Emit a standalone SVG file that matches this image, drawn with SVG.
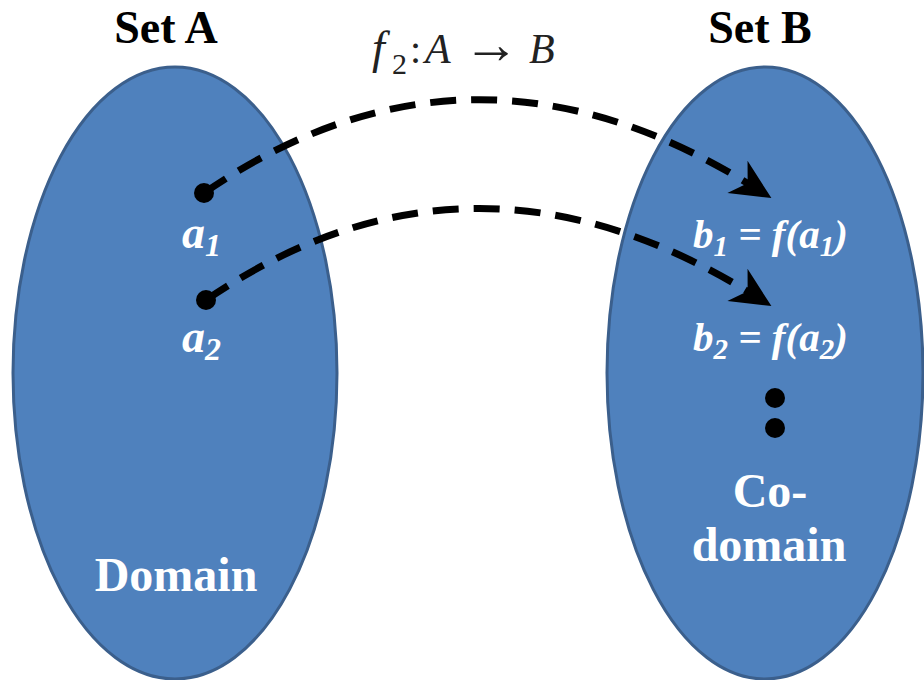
<svg xmlns="http://www.w3.org/2000/svg" width="924" height="680" viewBox="0 0 924 680">
<style>
.set{fill:#4f81bd;stroke:#3b5f8c;stroke-width:3}
.conn{fill:none;stroke:#000;stroke-width:7;stroke-dasharray:26 15}
</style>
<defs>
<path id="ah" d="M4,0 L-36,-19 L-24,0 L-36,19 Z" fill="#000"/>
</defs>
<g id="setA">
<ellipse class="set" cx="175" cy="373" rx="162" ry="306"/>
<text x="166" y="43" text-anchor="middle" font-family="Liberation Serif, DejaVu Serif, serif" font-weight="bold" font-size="46" fill="#000">Set A</text>
<text x="176" y="591" text-anchor="middle" font-family="Liberation Serif, DejaVu Serif, serif" font-weight="bold" font-size="48" fill="#fff">Domain</text>
</g>
<g id="setB">
<ellipse class="set" cx="765" cy="373" rx="158" ry="306"/>
<text x="760" y="43" text-anchor="middle" font-family="Liberation Serif, DejaVu Serif, serif" font-weight="bold" font-size="46" fill="#000">Set B</text>
<text x="770" y="507" text-anchor="middle" font-family="Liberation Serif, DejaVu Serif, serif" font-weight="bold" font-size="48" fill="#fff">Co-</text>
<text x="769" y="561" text-anchor="middle" font-family="Liberation Serif, DejaVu Serif, serif" font-weight="bold" font-size="48" fill="#fff">domain</text>
</g>
<g id="a1">
<circle cx="204" cy="193" r="10" fill="#000"/>
<text x="182" y="248" font-family="Liberation Serif, DejaVu Serif, serif" font-style="italic" font-weight="bold" fill="#fff" font-size="46">a<tspan font-size="32" dy="8">1</tspan></text>
</g>
<g id="a2">
<circle cx="206" cy="300" r="10" fill="#000"/>
<text x="182" y="352" font-family="Liberation Serif, DejaVu Serif, serif" font-style="italic" font-weight="bold" fill="#fff" font-size="46">a<tspan font-size="32" dy="8">2</tspan></text>
</g>
<g id="b1">
<text x="693" y="248" font-family="Liberation Serif, DejaVu Serif, serif" font-style="italic" font-weight="bold" fill="#fff" font-size="41">b<tspan font-size="29" dy="8">1</tspan><tspan dy="-8"> = f(a</tspan><tspan font-size="29" dy="8">1</tspan><tspan dy="-8">)</tspan></text>
</g>
<g id="b2">
<text x="693" y="351" font-family="Liberation Serif, DejaVu Serif, serif" font-style="italic" font-weight="bold" fill="#fff" font-size="41">b<tspan font-size="29" dy="8">2</tspan><tspan dy="-8"> = f(a</tspan><tspan font-size="29" dy="8">2</tspan><tspan dy="-8">)</tspan></text>
</g>
<g id="ellipsis">
<circle cx="775" cy="398" r="10" fill="#000"/>
<circle cx="775" cy="428" r="10" fill="#000"/>
</g>
<g id="formula" font-family="Liberation Serif, DejaVu Serif, serif" fill="#222">
<text x="372" y="63" font-size="46" font-style="italic">f</text>
<text x="392" y="74" font-size="30">2</text>
<text x="410" y="63" font-size="40">:</text>
<text x="425" y="63" font-size="42" font-style="italic">A</text>
<text x="463" y="63" font-size="56">→</text>
<text x="529" y="63" font-size="42" font-style="italic">B</text>
</g>
<g id="connectors">
<path class="conn" d="M204,193 Q470,10 752,186"/>
<path class="conn" d="M206,300 Q470,120 752,294"/>
<use href="#ah" transform="translate(768,196) rotate(32)"/>
<use href="#ah" transform="translate(768,304) rotate(32)"/>
</g>
</svg>
